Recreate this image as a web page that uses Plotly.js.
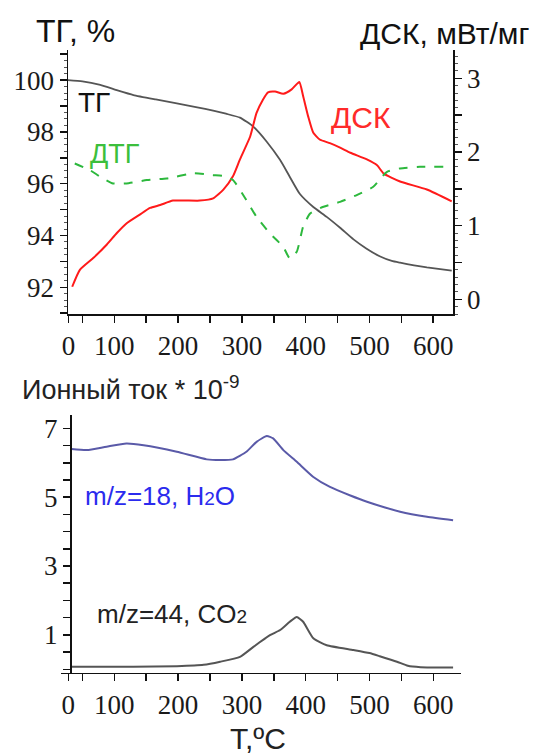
<!DOCTYPE html>
<html>
<head>
<meta charset="utf-8">
<script src="https://cdn.plot.ly/plotly-3.0.1.min.js"></script>
<style>html,body{margin:0;padding:0;background:#fff;}#chart{width:537px;height:755px;}</style>
</head>
<body>
<div id="chart"></div>
<script>
// ---- Data ----
const tgT   = [27, 50, 78, 105, 130, 165, 198, 230, 255, 275, 297, 318, 339, 360, 375, 391, 412, 433, 454, 475, 495, 516, 535, 548, 570, 590, 629];
const tgVal = [100, 99.95, 99.81, 99.6, 99.42, 99.25, 99.1, 98.95, 98.82, 98.7, 98.55, 98.2, 97.62, 96.91, 96.27, 95.6, 95.1, 94.72, 94.3, 93.85, 93.5, 93.2, 93.02, 92.95, 92.85, 92.77, 92.64];

const dscT   = [34, 46, 67, 88, 104, 119, 140, 156, 172, 192, 234, 255, 271, 286, 297, 313, 323, 333, 341, 352, 365, 378, 390, 396, 404, 412, 422, 438, 454, 470, 496, 512, 522, 548, 590, 629];
const dscVal = [0.17, 0.40, 0.56, 0.74, 0.90, 1.03, 1.15, 1.24, 1.28, 1.34, 1.34, 1.37, 1.49, 1.67, 1.90, 2.21, 2.53, 2.71, 2.81, 2.82, 2.79, 2.85, 2.95, 2.76, 2.48, 2.26, 2.17, 2.12, 2.06, 1.99, 1.90, 1.82, 1.71, 1.60, 1.49, 1.33];

const dtgT   = [38, 62, 78, 98, 119, 151, 182, 224, 255, 270, 286, 307, 323, 344, 365, 375, 386, 396, 407, 428, 454, 480, 506, 527, 548, 579, 629];
const dtgVal = [96.78, 96.52, 96.27, 96.01, 96.01, 96.14, 96.2, 96.4, 96.33, 96.3, 96.14, 95.37, 94.72, 94.08, 93.56, 93.12, 93.37, 94.34, 94.85, 95.11, 95.3, 95.56, 95.88, 96.45, 96.59, 96.65, 96.65];

const h2oT   = [33, 57, 88, 119, 146, 198, 245, 266, 286, 307, 323, 339, 349, 365, 386, 412, 438, 470, 496, 548, 590, 631];
const h2oVal = [6.40, 6.37, 6.47, 6.56, 6.51, 6.32, 6.10, 6.08, 6.10, 6.32, 6.61, 6.78, 6.71, 6.37, 6.03, 5.59, 5.30, 5.05, 4.87, 4.58, 4.43, 4.33];

const co2T   = [33, 130, 198, 240, 266, 297, 318, 344, 360, 375, 386, 396, 412, 433, 475, 500, 516, 543, 560, 580, 631];
const co2Val = [0.07, 0.07, 0.09, 0.13, 0.22, 0.36, 0.65, 0.99, 1.14, 1.38, 1.52, 1.38, 0.90, 0.70, 0.56, 0.47, 0.38, 0.22, 0.10, 0.06, 0.05];

const xTickVals = [28, 50, 100, 150, 200, 250, 300, 350, 400, 450, 500, 550, 600];
const xTickText = ["0", "", "100", "", "200", "", "300", "", "400", "", "500", "", "600"];
const tgTickVals = [91, 92, 93, 94, 95, 96, 97, 98, 99, 100, 101];
const tgTickText = ["", "92", "", "94", "", "96", "", "98", "", "100", ""];
const dscTickVals = [0, 0.5, 1, 1.5, 2, 2.5, 3];
const dscTickText = ["0", "", "1", "", "2", "", "3"];
const ionTickVals = [0, 0.5, 1, 1.5, 2, 2.5, 3, 3.5, 4, 4.5, 5, 5.5, 6, 6.5, 7];
const ionTickText = ["", "", "1", "", "", "", "3", "", "", "", "5", "", "", "", "7"];

// ---- Layout helpers ----
const W = 537, H = 755;
const px = x => x / W;
const py = y => 1 - y / H;

const tickFont = {family: "Times New Roman, Liberation Serif, serif", size: 27, color: "#1a1a1a"};
const sans = "Liberation Sans, Arial, sans-serif";
const axBase = {
  showgrid: false, zeroline: false, showline: true, linecolor: "#111", linewidth: 1.5,
  ticks: "outside", ticklen: 7, tickwidth: 1.5, tickcolor: "#111",
  tickfont: tickFont, fixedrange: true
};
const smooth = {shape: "spline", smoothing: 0.5};

const traces = [
  {x: tgT, y: tgVal, xaxis: "x", yaxis: "y", mode: "lines", line: Object.assign({color: "#555555", width: 1.8}, smooth), hoverinfo: "skip"},
  {x: dscT, y: dscVal, xaxis: "x", yaxis: "y2", mode: "lines", line: Object.assign({color: "#ff1a1a", width: 2}, smooth), hoverinfo: "skip"},
  {x: dtgT, y: dtgVal, xaxis: "x", yaxis: "y5", mode: "lines", line: Object.assign({color: "#2db83d", width: 2, dash: "dash"}, smooth), hoverinfo: "skip"},
  {x: h2oT, y: h2oVal, xaxis: "x2", yaxis: "y3", mode: "lines", line: Object.assign({color: "#5a5aa8", width: 2}, smooth), hoverinfo: "skip"},
  {x: co2T, y: co2Val, xaxis: "x2", yaxis: "y3", mode: "lines", line: Object.assign({color: "#555555", width: 2}, smooth), hoverinfo: "skip"}
];

function note(text, x, y, size, color) {
  return {text: text, x: px(x), y: py(y), xref: "paper", yref: "paper", showarrow: false,
          xanchor: "center", yanchor: "middle", font: {family: sans, size: size, color: color}};
}

const layout = {
  width: W, height: H,
  margin: {l: 0, r: 0, t: 0, b: 0},
  paper_bgcolor: "#fff", plot_bgcolor: "#fff",
  showlegend: false,
  xaxis: Object.assign({}, axBase, {
    domain: [px(68), px(453)], range: [27.4, 631], anchor: "y",
    tickmode: "array", tickvals: xTickVals, ticktext: xTickText
  }),
  yaxis: Object.assign({}, axBase, {
    domain: [py(314), py(50)], range: [90.97, 101.16], anchor: "x",
    tickmode: "array", tickvals: tgTickVals, ticktext: tgTickText,
    minor: {dtick: 0.25, ticklen: 3, ticks: "outside", tickcolor: "#555", tickwidth: 1}
  }),
  yaxis2: Object.assign({}, axBase, {
    overlaying: "y", side: "right", anchor: "x", range: [-0.2, 3.385],
    tickmode: "array", tickvals: dscTickVals, ticktext: dscTickText,
    minor: {dtick: 0.1, ticklen: 3, ticks: "outside", tickcolor: "#555", tickwidth: 1}
  }),
  yaxis5: {overlaying: "y", anchor: "x", range: [90.97, 101.16], visible: false, fixedrange: true},
  xaxis2: Object.assign({}, axBase, {
    domain: [px(61), px(461)], range: [16.5, 643.4], anchor: "y3",
    tickmode: "array", tickvals: xTickVals.slice(), ticktext: xTickText.slice()
  }),
  yaxis3: Object.assign({}, axBase, {
    domain: [py(672.7), py(415)], range: [-0.1, 7.39], anchor: "free", position: px(70),
    tickmode: "array", tickvals: ionTickVals, ticktext: ionTickText
  }),
  annotations: [
    note("ТГ, %", 75, 31, 32, "#111"),
    note("ДСК, мВт/мг", 444, 34, 30, "#111"),
    note("ТГ", 94, 102, 28, "#111"),
    note("ДСК", 361, 117, 30, "#ff2a2a"),
    note("ДТГ", 115, 154, 27, "#3cbf3c"),
    note("Ионный ток * 10<sup>-9</sup>", 130, 388, 27, "#222"),
    note("m/z=18, H<span style='font-size:19px'>2</span>O", 160, 496, 26, "#2b2bee"),
    note("m/z=44, CO<span style='font-size:19px'>2</span>", 172, 614, 26, "#222"),
    note("T,ºC", 258, 738, 30, "#222")
  ]
};

Plotly.newPlot("chart", traces, layout, {displayModeBar: false, staticPlot: true});
</script>
</body>
</html>
